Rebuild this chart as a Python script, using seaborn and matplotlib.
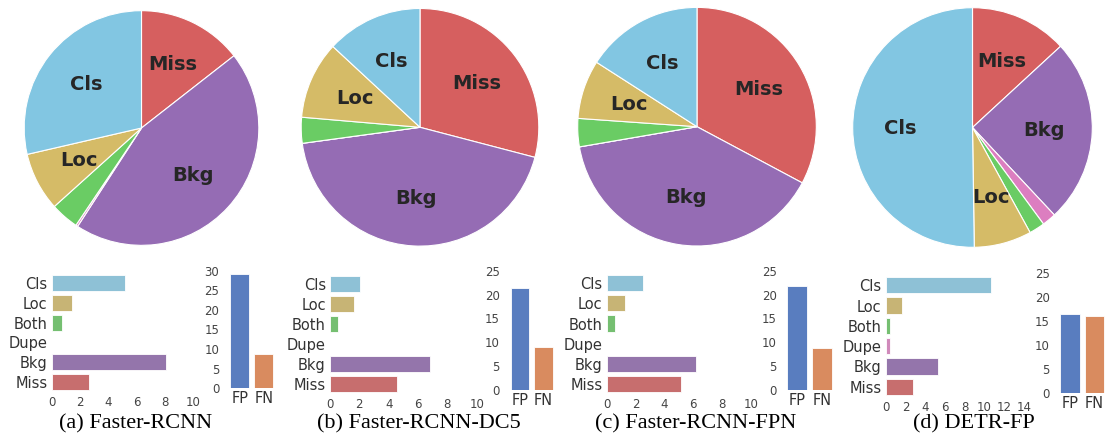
"""
TIDE style error breakdown for four detectors
"""

import matplotlib
matplotlib.use('Agg')
import seaborn as sns
import matplotlib.pyplot as plt

# data
categories = ['Cls', 'Loc', 'Both', 'Dupe', 'Bkg', 'Miss']
special = ['FP', 'FN']
captions = ['(a) Faster-RCNN', '(b) Faster-RCNN-DC5',
            '(c) Faster-RCNN-FPN', '(d) DETR-FP']

faster_rcnn = [5.15, 1.45, 0.7, 0.05, 8.05, 2.6]
faster_rcnn_dc5 = [2.05, 1.65, 0.55, 0.0, 6.85, 4.55]
faster_rcnn_fpn = [2.5, 1.25, 0.6, 0.0, 6.2, 5.15]
detr_fp = [10.7, 1.65, 0.45, 0.4, 5.3, 2.8]

special_faster_rcnn = [29.2, 8.8]
special_faster_rcnn_dc5 = [21.4, 9.1]
special_faster_rcnn_fpn = [21.8, 8.9]
special_detr_fp = [16.4, 16.1]

main_errors = [faster_rcnn, faster_rcnn_dc5, faster_rcnn_fpn, detr_fp]
special_errors = [special_faster_rcnn, special_faster_rcnn_dc5,
                  special_faster_rcnn_fpn, special_detr_fp]
x_max = [10, 10, 10, 14]
y_max = [30, 25, 25, 25]

# colors
muted = sns.color_palette('muted')
error_color_dict = {'Cls': muted[9], 'Loc': muted[8], 'Both': muted[2],
                    'Dupe': muted[6], 'Bkg': muted[4], 'Miss': muted[3]}
special_color_dict = {'FP': muted[0], 'FN': muted[1]}

# layout in pixels (figure is 1107 x 443)
W, H = 1107, 443
pie_boxes = [(141.5, 128, 118.5), (420, 127.3, 120),
             (697, 126.7, 120.5), (972.5, 127.5, 121)]
hbar_boxes = [(51.7, 273.5, 141.7, 118), (330, 274.3, 146.7, 119.7),
              (606.7, 273.2, 144, 120.8), (885.7, 275.2, 138.3, 121.6)]
vbar_boxes = [(227.7, 270.7, 48, 117.6), (508.3, 270.7, 46.7, 119.3),
              (785, 270.7, 49, 119.3), (1058, 272.7, 48.5, 120.6)]
caption_x = [136, 419, 696, 974]

sns.set_style('white')
plt.rcParams['font.family'] = ['DejaVu Sans']
text_color = '#262626'


def px_axes(fig, x, y, w, h):
    return fig.add_axes([x / W, 1 - (y + h) / H, w / W, h / H])


def plot_pie(fig, box, values):
    cx, cy, r = box
    ax = px_axes(fig, cx - r, cy - r, 2 * r, 2 * r)
    order = categories[::-1]
    vals = values[::-1]
    total = sum(vals)
    lbls = [c if v / total > 0.05 else '' for c, v in zip(order, vals)]
    ax.pie(vals,
           labels=lbls,
           colors=[error_color_dict[c] for c in order],
           startangle=90,
           counterclock=False,
           labeldistance=0.6,
           radius=1,
           wedgeprops={'edgecolor': 'white', 'linewidth': 0.8},
           textprops={'fontsize': 14, 'fontweight': 'bold',
                      'color': text_color, 'ha': 'center', 'va': 'center'})
    ax.set_xlim(-1.01, 1.01)
    ax.set_ylim(-1.01, 1.01)
    ax.set_aspect('auto')


def plot_main_bar(fig, box, values, xmax):
    ax = px_axes(fig, *box)
    sns.barplot(x=values, y=categories, hue=categories, orient='h',
                palette=error_color_dict, legend=False, ax=ax, width=0.8,
                edgecolor='white', linewidth=0.6)
    ax.set_xlim(0, xmax)
    ax.set_ylim(5.5, -0.5)
    ax.set_xticks(range(0, xmax + 1, 2))
    ax.set_xlabel('')
    ax.set_ylabel('')
    ax.tick_params(axis='y', labelsize=10.5, labelcolor='#333333',
                   length=0, pad=3)
    ax.tick_params(axis='x', labelsize=8.5, labelcolor='#444444',
                   length=0, pad=3)
    sns.despine(ax=ax, left=True, bottom=True)


def plot_special_bar(fig, box, values, ymax):
    ax = px_axes(fig, *box)
    sns.barplot(x=special, y=values, hue=special, palette=special_color_dict,
                legend=False, ax=ax, width=0.8,
                edgecolor='white', linewidth=0.6)
    ax.set_xlim(-0.5, 1.5)
    ax.set_ylim(0, ymax)
    ax.set_yticks(range(0, ymax + 1, 5))
    ax.set_xlabel('')
    ax.set_ylabel('')
    ax.tick_params(axis='x', labelsize=10.5, labelcolor='#333333',
                   length=0, pad=2)
    ax.tick_params(axis='y', labelsize=8.5, labelcolor='#444444',
                   length=0, pad=6)
    sns.despine(ax=ax, left=True, bottom=True)


fig = plt.figure(figsize=(W / 100, H / 100), dpi=100)

for i in range(4):
    plot_pie(fig, pie_boxes[i], main_errors[i])
    plot_main_bar(fig, hbar_boxes[i], main_errors[i], x_max[i])
    plot_special_bar(fig, vbar_boxes[i], special_errors[i], y_max[i])
    fig.text(caption_x[i] / W, 1 - 424 / H, captions[i],
             family='Liberation Serif', fontsize=16, color='black',
             ha='center', va='center')

plt.savefig('out.png', dpi=100)
plt.close()
